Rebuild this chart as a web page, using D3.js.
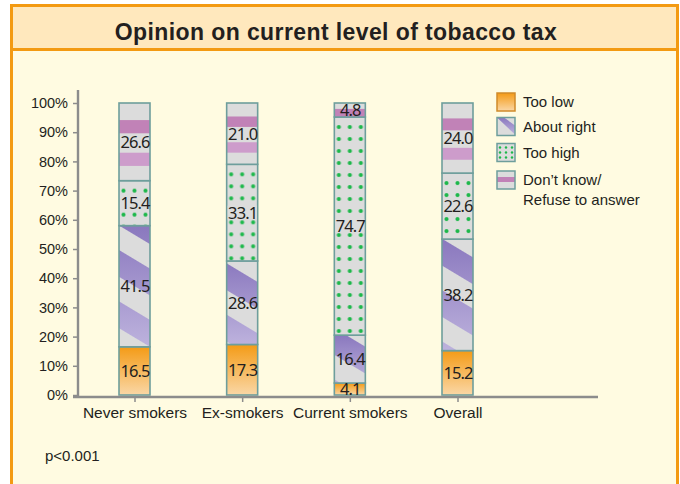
<!DOCTYPE html>
<html>
<head>
<meta charset="utf-8">
<script src="https://cdn.jsdelivr.net/npm/d3@7"></script>
<style>
  html, body { margin: 0; padding: 0; background: #ffffff; }
  svg { display: block; }
</style>
</head>
<body>
<svg id="chart" width="680" height="484"></svg>
<script>
// Survey groups and response shares (%)
const categories = ["Never smokers", "Ex-smokers", "Current smokers", "Overall"];
const tooLow     = [16.5, 17.3, 4.1, 15.2];
const aboutRight = [41.5, 28.6, 16.4, 38.2];
const tooHigh    = [15.4, 33.1, 74.7, 22.6];
const dontKnow   = [26.6, 21.0, 4.8, 24.0];
const seriesNames = ["Too low", "About right", "Too high", "Don\u2019t know/\nRefuse to answer"];
const yTicks = [0, 10, 20, 30, 40, 50, 60, 70, 80, 90, 100];

const svg = d3.select("#chart");
const font = "'Liberation Sans', Arial, sans-serif";
const numFont = "'Noto Sans', 'Open Sans', sans-serif";
const ink = "#231f20";
const dotCol = "#1DB84A";

// ---------- panel ----------
svg.append("rect").attr("x", 11.5).attr("y", 5.5).attr("width", 666).attr("height", 490)
  .attr("fill", "#FFFBE1").attr("stroke", "#F39A12").attr("stroke-width", 3);
svg.append("rect").attr("x", 11.5).attr("y", 5.5).attr("width", 666).attr("height", 44)
  .attr("fill", "#FFE8BD").attr("stroke", "#F39A12").attr("stroke-width", 3);
svg.append("text").attr("x", 336).attr("y", 40).attr("text-anchor", "middle")
  .attr("font-family", font).attr("font-weight", "bold").attr("font-size", 23)
  .attr("letter-spacing", 0.4)
  .attr("fill", ink).text("Opinion on current level of tobacco tax");

// ---------- fills ----------
const defs = svg.append("defs");
const lowGrad = defs.append("linearGradient").attr("id", "lowGrad")
  .attr("x1", 0).attr("y1", 0).attr("x2", 0).attr("y2", 1);
lowGrad.append("stop").attr("offset", "0%").attr("stop-color", "#F49B16");
lowGrad.append("stop").attr("offset", "100%").attr("stop-color", "#FAD7A6");

const purpGrad = defs.append("linearGradient").attr("id", "purpGrad")
  .attr("x1", 0).attr("y1", 0).attr("x2", 0).attr("y2", 1);
purpGrad.append("stop").attr("offset", "0%").attr("stop-color", "#8A78BE");
purpGrad.append("stop").attr("offset", "100%").attr("stop-color", "#BDB2DD");

// grey diagonal stripes laid over the purple gradient
const stripes = defs.append("pattern").attr("id", "stripes")
  .attr("patternUnits", "userSpaceOnUse").attr("width", 44).attr("height", 44)
  .attr("patternTransform", "rotate(31)");
stripes.append("rect").attr("x", 0).attr("y", 0).attr("width", 44).attr("height", 21)
  .attr("fill", "#DCDCDC");

// dotted fill, anchored to each segment's own corner
function dotPattern(id, px, py) {
  const p = defs.append("pattern").attr("id", id)
    .attr("patternUnits", "userSpaceOnUse").attr("width", 11).attr("height", 12)
    .attr("x", px).attr("y", py);
  p.append("rect").attr("width", 11).attr("height", 12).attr("fill", "#DCDCDC");
  p.append("circle").attr("cx", 5.5).attr("cy", 6).attr("r", 2.1).attr("fill", dotCol);
  return `url(#${id})`;
}

// ---------- scales ----------
const y = d3.scaleLinear().domain([0, 100]).range([395, 103]);
const x = d3.scalePoint().domain(categories).range([134.5, 457.5]);
const barW = 31;

// stacked layout
const rows = categories.map((c, i) => ({
  cat: c, low: tooLow[i], right: aboutRight[i], high: tooHigh[i], dk: dontKnow[i]
}));
const stack = d3.stack().keys(["low", "right", "high", "dk"])(rows);

const plot = svg.append("g");
const borderCol = "#6E9E9C";

stack.forEach((layer, li) => {
  layer.forEach((d, ci) => {
    const x0 = x(categories[ci]) - barW / 2;
    const yTop = y(d[1]), yBot = y(d[0]);
    const h = yBot - yTop;
    const g = plot.append("g");
    const seg = () => g.append("rect").attr("x", x0).attr("y", yTop).attr("width", barW).attr("height", h);
    if (li === 0) {
      seg().attr("fill", "url(#lowGrad)");
    } else if (li === 1) {
      seg().attr("fill", "url(#purpGrad)");
      seg().attr("fill", "url(#stripes)");
    } else if (li === 2) {
      seg().attr("fill", dotPattern("dots" + ci, x0 - 1, yTop + 4));
    } else {
      seg().attr("fill", "#DCDCDC");
      if (h > 30) {
        g.append("rect").attr("x", x0).attr("y", yTop + h * 0.22).attr("width", barW)
          .attr("height", h * 0.17).attr("fill", "#C182B7");
        g.append("rect").attr("x", x0).attr("y", yTop + h * 0.64).attr("width", barW)
          .attr("height", h * 0.17).attr("fill", "#CD9CCB");
      } else {
        g.append("rect").attr("x", x0).attr("y", yTop + h * 0.42).attr("width", barW)
          .attr("height", h * 0.58).attr("fill", "#C182B7");
      }
    }
    seg().attr("fill", "none").attr("stroke", borderCol).attr("stroke-width", 1.6);
  });
});

// value labels (on the dotted layer they sit on a plain patch)
stack.forEach((layer, li) => {
  layer.forEach((d, ci) => {
    const v = d[1] - d[0];
    const cy = (y(d[0]) + y(d[1])) / 2;
    if (li === 2) {
      plot.append("rect").attr("x", x(categories[ci]) - barW / 2 + 1).attr("y", cy - 7)
        .attr("width", barW - 2).attr("height", 14).attr("fill", "#DCDCDC");
    }
    plot.append("text")
      .attr("x", x(categories[ci]) + 0.5)
      .attr("y", cy)
      .attr("dy", "0.36em")
      .attr("text-anchor", "middle")
      .attr("font-family", numFont).attr("font-size", 16.5)
      .attr("letter-spacing", -0.9)
      .attr("fill", ink)
      .text(v.toFixed(1));
  });
});

// ---------- axes ----------
const axisCol = "#8C8C8C";
const yAxis = svg.append("g").attr("transform", "translate(78,0)")
  .call(d3.axisLeft(y).tickValues(yTicks).tickSize(5).tickSizeOuter(0).tickFormat(d => d + "%"));
yAxis.select(".domain").attr("d", "M0,90V397").attr("stroke", axisCol).attr("stroke-width", 2.4);
yAxis.selectAll(".tick line").attr("stroke", axisCol).attr("stroke-width", 1.5);
yAxis.selectAll(".tick text").attr("font-family", font).attr("font-size", 14.5)
  .attr("fill", ink).attr("x", -10);

const xAxis = svg.append("g").attr("transform", "translate(0,397)")
  .call(d3.axisBottom(x).tickSize(5).tickSizeOuter(0));
xAxis.select(".domain").attr("d", "M73,0H598").attr("stroke", axisCol).attr("stroke-width", 2.4);
xAxis.selectAll(".tick line").attr("stroke", axisCol).attr("stroke-width", 1.5);
xAxis.selectAll(".tick text").attr("font-family", font).attr("font-size", 15.5)
  .attr("fill", ink).attr("y", 10);

svg.append("text").attr("x", 45).attr("y", 461)
  .attr("font-family", font).attr("font-size", 15).attr("fill", ink).text("p<0.001");

// ---------- legend ----------
const legY = [93, 117.5, 143.5, 171];
const leg = svg.append("g");
seriesNames.forEach((name, i) => {
  const g = leg.append("g").attr("transform", `translate(497,${legY[i]})`);
  if (i === 0) {
    g.append("rect").attr("width", 18).attr("height", 18).attr("fill", "url(#lowGrad)");
  } else if (i === 1) {
    g.append("rect").attr("width", 18).attr("height", 18).attr("fill", "#DCDCDC");
    g.append("path").attr("d", "M0,0L7,0L18,8L18,17Z").attr("fill", "url(#purpGrad)");
  } else if (i === 2) {
    g.append("rect").attr("width", 18).attr("height", 18).attr("fill", "#DCDCDC");
    [3, 9, 15].forEach(cx => [4, 9, 14].forEach(cy =>
      g.append("circle").attr("cx", cx).attr("cy", cy).attr("r", 1.2).attr("fill", dotCol)));
  } else {
    g.append("rect").attr("width", 18).attr("height", 18).attr("fill", "#DCDCDC");
    g.append("rect").attr("y", 6).attr("width", 18).attr("height", 5).attr("fill", "#C182B7");
  }
  g.append("rect").attr("width", 18).attr("height", 18).attr("fill", "none")
    .attr("stroke", i === 0 ? "#D08A2A" : borderCol).attr("stroke-width", 1.5);
  name.split("\n").forEach((ln, k) => {
    g.append("text").attr("x", 26).attr("y", 14 + k * 20)
      .attr("font-family", font).attr("font-size", 15).attr("fill", ink).text(ln);
  });
});
</script>
</body>
</html>
